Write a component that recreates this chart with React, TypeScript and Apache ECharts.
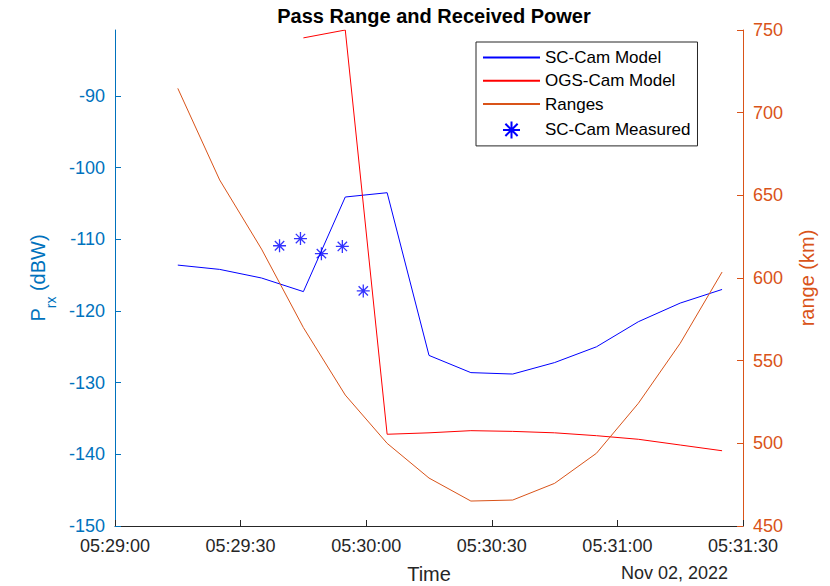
import React, { useEffect, useRef } from 'react';
import * as echarts from 'echarts';

// ---- data ----
const xTickLabels = ['05:29:00', '05:29:30', '05:30:00', '05:30:30', '05:31:00', '05:31:30'];
const leftTicks = [-150, -140, -130, -120, -110, -100, -90];
const rightTicks = [450, 500, 550, 600, 650, 700, 750];

const scModelTimes = ['05:29:15', '05:29:25', '05:29:35', '05:29:45', '05:29:55', '05:30:05', '05:30:15',
  '05:30:25', '05:30:35', '05:30:45', '05:30:55', '05:31:05', '05:31:15', '05:31:25'];
const scModel = [-113.6, -114.2, -115.4, -117.3, -104.1, -103.5, -126.2, -128.6, -128.8, -127.2, -125.0, -121.5, -118.9, -117.0];

const ogsModelTimes = ['05:29:45', '05:29:55', '05:30:05', '05:30:15', '05:30:25', '05:30:35', '05:30:45',
  '05:30:55', '05:31:05', '05:31:15', '05:31:25'];
const ogsModel = [-81.9, -80.8, -137.2, -137.0, -136.7, -136.8, -137.0, -137.4, -137.9, -138.7, -139.5];

const rangeTimes = ['05:29:15', '05:29:25', '05:29:35', '05:29:45', '05:29:55', '05:30:05', '05:30:15',
  '05:30:25', '05:30:35', '05:30:45', '05:30:55', '05:31:05', '05:31:15', '05:31:25'];
const ranges = [714.7, 659.3, 617.5, 570, 529.2, 500, 479, 465.1, 465.7, 475.8, 494, 524.2, 560.5, 603.6];

const measuredTimes = ['05:29:39.3', '05:29:44.3', '05:29:49.3', '05:29:54.3', '05:29:59.3'];
const measured = [-110.9, -109.9, -112.0, -111.0, -117.2];

const dateLabel = 'Nov 02, 2022';

// ---- helpers ----
const toAbs = (t: string) => {
  const [h, m, s] = t.split(':');
  return Number(h) * 3600 + Number(m) * 60 + parseFloat(s);
};
const t0 = toAbs(xTickLabels[0]);
const toSec = (t: string) => toAbs(t) - t0;
const fmt = (v: number) => {
  const a = Math.round(t0 + v);
  const h = Math.floor(a / 3600), m = Math.floor((a % 3600) / 60), s = a % 60;
  const p = (n: number) => String(n).padStart(2, '0');
  return `${p(h)}:${p(m)}:${p(s)}`;
};
const pairs = (ts: string[], vs: number[]) => ts.map((t, i) => [toSec(t), vs[i]]);

const FONT = "'Liberation Sans', Arial, Helvetica, sans-serif";
const BLUE_AX = '#0072BD';
const ORANGE = '#D95319';
const DARK = '#262626';
const STAR = 'path://M0,-1L0,1M-1,0L1,0M-0.72,-0.72L0.72,0.72M-0.72,0.72L0.72,-0.72';

export default function App() {
  const ref = useRef<HTMLDivElement>(null);
  useEffect(() => {
    if (!ref.current) return;
    const chart = echarts.init(ref.current, null, { renderer: 'svg' });
    const xSpan = toSec(xTickLabels[xTickLabels.length - 1]);
    chart.setOption({
      animation: false,
      backgroundColor: '#fff',
      textStyle: { fontFamily: FONT },
      title: {
        text: 'Pass Range and Received Power',
        left: 429, top: 1, textAlign: 'center',
        textStyle: { fontSize: 20, fontWeight: 'bold', color: '#000', fontFamily: FONT },
      },
      grid: { left: 115, right: 87, top: 30, bottom: 60, containLabel: false, outerBoundsMode: 'none' },
      legend: {
        orient: 'vertical', left: 476, top: 42,
        itemWidth: 57, itemHeight: 17, itemGap: 6.3,
        padding: [7, 7, 5, 6],
        borderColor: DARK, borderWidth: 1, borderRadius: 0, backgroundColor: '#fff',
        textStyle: { fontSize: 17, color: '#000', fontFamily: FONT },
        itemStyle: { opacity: 0 },
        data: [
          { name: 'SC-Cam Model' },
          { name: 'OGS-Cam Model' },
          { name: 'Ranges' },
          { name: 'SC-Cam Measured', itemStyle: { opacity: 1 } },
        ],
      },
      xAxis: {
        type: 'value', min: 0, max: xSpan, interval: 30,
        name: 'Time', nameLocation: 'middle', nameGap: 38,
        nameTextStyle: { fontSize: 20, color: DARK, fontFamily: FONT },
        axisLine: { lineStyle: { color: DARK, width: 1 } },
        axisTick: { inside: true, length: 6, lineStyle: { color: DARK } },
        axisLabel: { fontSize: 18, color: DARK, margin: 11, formatter: (v: number) => fmt(v), fontFamily: FONT },
        splitLine: { show: false },
      },
      yAxis: [
        {
          type: 'value', position: 'left', min: leftTicks[0], max: Math.max(...ogsModel), interval: 10,
          name: '{m|P}{s|rx}{m| (dBW)}', nameLocation: 'middle', nameGap: 53, nameRotate: 90,
          nameTextStyle: {
            color: BLUE_AX, fontFamily: FONT,
            rich: {
              m: { fontSize: 20, lineHeight: 20, color: BLUE_AX, fontFamily: FONT },
              s: { fontSize: 14, lineHeight: 14, color: BLUE_AX, fontFamily: FONT, padding: [26, 0, 0, 0] },
            },
          },
          axisLine: { show: true, lineStyle: { color: BLUE_AX, width: 1 } },
          axisTick: { show: true, inside: true, length: 6, customValues: leftTicks, lineStyle: { color: BLUE_AX } },
          axisLabel: { fontSize: 18, color: BLUE_AX, margin: 10, customValues: leftTicks, fontFamily: FONT },
          splitLine: { show: false },
        },
        {
          type: 'value', position: 'right', min: rightTicks[0], max: rightTicks[rightTicks.length - 1], interval: 50,
          name: 'range (km)', nameLocation: 'middle', nameGap: 54, nameRotate: 90,
          nameTextStyle: { fontSize: 20, color: ORANGE, fontFamily: FONT },
          axisLine: { show: true, lineStyle: { color: ORANGE, width: 1 } },
          axisTick: { show: true, inside: true, length: 6, lineStyle: { color: ORANGE } },
          axisLabel: { fontSize: 18, color: ORANGE, margin: 10, fontFamily: FONT },
          splitLine: { show: false },
        },
      ],
      graphic: [
        {
          type: 'text', x: 728, y: 573,
          style: { text: dateLabel, fontSize: 18, fill: DARK, fontFamily: FONT, textAlign: 'right', textVerticalAlign: 'middle' },
        },
      ],
      series: [
        {
          name: 'SC-Cam Model', type: 'line', yAxisIndex: 0, symbol: 'none',
          data: pairs(scModelTimes, scModel),
          lineStyle: { color: '#0000FF', width: 1 }, itemStyle: { color: '#0000FF' },
        },
        {
          name: 'OGS-Cam Model', type: 'line', yAxisIndex: 0, symbol: 'none',
          data: pairs(ogsModelTimes, ogsModel),
          lineStyle: { color: '#FF0000', width: 1 }, itemStyle: { color: '#FF0000' },
        },
        {
          name: 'Ranges', type: 'line', yAxisIndex: 1, symbol: 'none',
          data: pairs(rangeTimes, ranges),
          lineStyle: { color: ORANGE, width: 1 }, itemStyle: { color: ORANGE },
        },
        {
          name: 'SC-Cam Measured', type: 'scatter', yAxisIndex: 0,
          symbol: STAR, symbolSize: 13, symbolKeepAspect: true,
          data: pairs(measuredTimes, measured),
          itemStyle: { color: 'none', borderColor: '#0000FF', borderWidth: 1.3 },
        },
      ],
    });
    return () => chart.dispose();
  }, []);
  return <div ref={ref} style={{ position: 'absolute', left: 0, top: 0, width: 830, height: 586 }} />;
}
